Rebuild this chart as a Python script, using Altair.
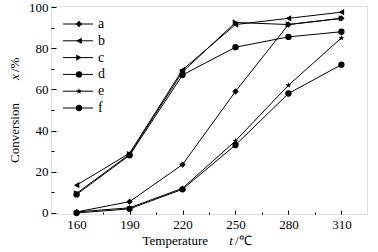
import altair as alt
import pandas as pd

temps = [160, 190, 220, 250, 280, 310]
series_names = ["a", "b", "c", "d", "e", "f"]
a_vals = [0.5, 5.5, 23.5, 59.0, 91.5, 94.5]
b_vals = [13.5, 29.0, 69.5, 91.5, 94.5, 97.5]
c_vals = [9.5, 28.5, 68.5, 92.5, 91.5, 94.5]
d_vals = [9.0, 28.0, 67.0, 80.5, 85.5, 88.0]
e_vals = [0.5, 2.5, 12.0, 35.0, 62.0, 85.0]
f_vals = [0.0, 2.0, 11.5, 33.0, 58.0, 72.0]

x_major = [160, 190, 220, 250, 280, 310]
x_minor = [175, 205, 235, 265, 295]
y_major = [0, 20, 40, 60, 80, 100]
y_minor = [10, 30, 50, 70, 90]

rows = []
for name, vals in zip(series_names, [a_vals, b_vals, c_vals, d_vals, e_vals, f_vals]):
    for t, v in zip(temps, vals):
        rows.append({"temp": t, "conv": v, "series": name})
df = pd.DataFrame(rows)
legend_df = pd.DataFrame({"series": series_names})

FONT = "Liberation Serif"
STAR = ("M0,-1L0.2245,-0.309L0.951,-0.309L0.363,0.118L0.588,0.809L0,0.382"
        "L-0.588,0.809L-0.363,0.118L-0.951,-0.309L-0.2245,-0.309Z")
shape_scale = alt.Scale(domain=series_names,
                        range=["diamond", "triangle-left", "triangle-right", "circle", STAR, "circle"])
MSIZE = 40

xs = alt.Scale(domain=[145.5, 324.5], nice=False, zero=False)
ys = alt.Scale(domain=[-0.5, 100.5], nice=False, zero=False)


def ax(orient, **kw):
    base = dict(orient=orient, grid=False, domain=False, title=None)
    base.update(kw)
    return alt.Axis(**base)


label_style = dict(labelFont=FONT, labelFontSize=13, labelColor="black", ticks=False, tickSize=0)
tick_style = dict(labels=False, ticks=True, tickColor="black", tickWidth=1)

base = alt.Chart(df)

lines = base.mark_line(color="black", strokeWidth=1).encode(
    x=alt.X("temp:Q", scale=xs, axis=ax("bottom", values=x_major, labelPadding=4, **label_style)),
    y=alt.Y("conv:Q", scale=ys, axis=ax("left", values=y_major, labelPadding=3, **label_style)),
    detail="series:N",
)

points = base.mark_point(filled=True, color="black", size=MSIZE, opacity=1).encode(
    x=alt.X("temp:Q", scale=xs, axis=ax("bottom", values=x_major, tickSize=4, offset=-4, **tick_style)),
    y=alt.Y("conv:Q", scale=ys, axis=ax("left", values=y_major, tickSize=5, offset=-5, **tick_style)),
    shape=alt.Shape("series:N", scale=shape_scale, legend=None),
)

minor = base.mark_point(opacity=0).encode(
    x=alt.X("temp:Q", scale=xs, axis=ax("bottom", values=x_minor, tickSize=2, offset=-2, **tick_style)),
    y=alt.Y("conv:Q", scale=ys, axis=ax("left", values=y_minor, tickSize=3, offset=-3, **tick_style)),
)

leg_y = alt.Y("series:N", scale=alt.Scale(type="point", domain=series_names, range=[18, 102], padding=0),
              axis=None)
leg_base = alt.Chart(legend_df)
leg_rules = leg_base.mark_rule(color="black", strokeWidth=1).encode(
    x=alt.value(12), x2=alt.value(42), y=leg_y)
leg_points = leg_base.mark_point(filled=True, color="black", size=MSIZE, opacity=1).encode(
    x=alt.value(28), y=leg_y, shape=alt.Shape("series:N", scale=shape_scale, legend=None))
leg_text = leg_base.mark_text(font=FONT, fontSize=14, align="left", baseline="middle", color="black").encode(
    x=alt.value(47), y=leg_y, text="series:N")

one = alt.Data(values=[{}])


def txt(s, x, y, align="center", italic=False, angle=0):
    kw = dict(font=FONT, fontSize=13, color="black", align=align, baseline="middle")
    if italic:
        kw["fontStyle"] = "italic"
    if angle:
        kw["angle"] = angle
    return alt.Chart(one).mark_text(**kw).encode(x=alt.value(x), y=alt.value(y), text=alt.value(s))


titles = [
    txt("Temperature", 157, 234.5, align="right"),
    txt("t", 180, 234.5, italic=True),
    txt("/\u2103", 184, 234.5, align="left"),
    txt("Conversion", -36, 157, align="left", angle=270),
    txt("x", -36, 71, italic=True, angle=270),
    txt("/%", -36, 66, align="left", angle=270),
]

chart = alt.layer(lines, points, minor, leg_rules, leg_points, leg_text, *titles).resolve_scale(
    y="independent"
).resolve_axis(x="independent", y="independent").properties(
    width=316, height=208,
    autosize=alt.AutoSizeParams(type="none"),
    padding={"left": 51, "top": 6, "right": 11, "bottom": 38},
).configure_view(stroke="black", strokeWidth=1).configure_axis(
    labelFont=FONT, labelFontSize=13, labelColor="black"
).configure(background="white", font=FONT)

chart.save("out.html", embed_options={"renderer": "svg", "actions": False})
